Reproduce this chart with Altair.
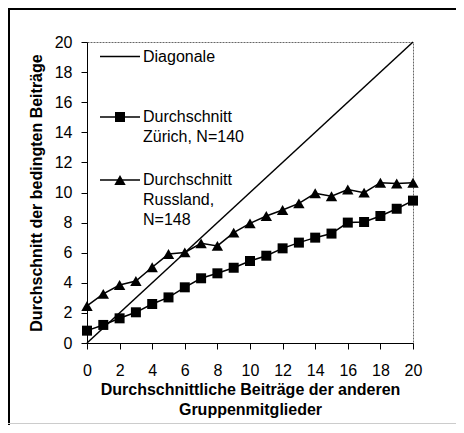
import altair as alt
import pandas as pd

# ---- data ----
x_vals = list(range(0, 21))
zurich = [0.82, 1.2, 1.64, 2.04, 2.59, 3.03, 3.7, 4.3, 4.63, 5.0, 5.45,
          5.8, 6.29, 6.67, 7.0, 7.27, 8.0, 8.04, 8.44, 8.92, 9.46]
russland = [2.46, 3.26, 3.85, 4.12, 5.03, 5.91, 6.02, 6.62, 6.45, 7.33, 7.95,
            8.44, 8.84, 9.28, 9.95, 9.75, 10.2, 9.99, 10.65, 10.6, 10.65]
diag_x = [0, 20]
diag_y = [0, 20]
tick_vals = list(range(0, 21, 2))

legend_labels = ["Diagonale", "Durchschnitt\nZürich, N=140", "Durchschnitt\nRussland,\nN=148"]

FONT = "Liberation Sans"

df_z = pd.DataFrame({"x": x_vals, "y": zurich})
df_r = pd.DataFrame({"x": x_vals, "y": russland})
df_d = pd.DataFrame({"x": diag_x, "y": diag_y})

xs = alt.Scale(domain=[0, 20], nice=False, zero=False)
ys = alt.Scale(domain=[0, 20], nice=False, zero=False)

x_axis = alt.Axis(values=tick_vals, grid=False, domainColor="black", tickColor="black",
                  tickSize=6, labelFont=FONT, labelFontSize=16, labelColor="black",
                  labelPadding=13, title=["Durchschnittliche Beiträge der anderen", "Gruppenmitglieder"],
                  titleFont=FONT, titleFontSize=16, titleFontWeight="bold", titleColor="black",
                  titleLineHeight=20, titlePadding=3, labelFlush=False)
y_axis = alt.Axis(values=tick_vals, grid=False, domainColor="black", tickColor="black",
                  tickSize=6, labelFont=FONT, labelFontSize=16, labelColor="black",
                  labelPadding=9, title="Durchschnitt der bedingten Beiträge",
                  titleFont=FONT, titleFontSize=16, titleFontWeight="bold", titleColor="black",
                  titlePadding=10, labelFlush=False)

X = alt.X("x:Q", scale=xs, axis=x_axis)
Y = alt.Y("y:Q", scale=ys, axis=y_axis)

diag = alt.Chart(df_d).mark_line(color="black", strokeWidth=1.5).encode(x=X, y=Y)
z_line = alt.Chart(df_z).mark_line(color="black", strokeWidth=1.5).encode(x=X, y=Y)
z_pts = alt.Chart(df_z).mark_point(shape="square", filled=True, size=100, color="black", opacity=1).encode(x=X, y=Y)
r_line = alt.Chart(df_r).mark_line(color="black", strokeWidth=1.5).encode(x=X, y=Y)
r_pts = alt.Chart(df_r).mark_point(shape="triangle-up", filled=True, size=130, color="black", opacity=1).encode(x=X, y=Y)

# ---- manual legend (inside plot, top-left) ----
base = alt.Chart(pd.DataFrame({"k": [0]}))
leg_rows = [14.5, 75, 138]
leg_items = []
for i, yy in enumerate(leg_rows):
    leg_items.append(base.mark_rule(color="black", strokeWidth=1.5).encode(
        x=alt.value(13), x2=alt.value(53), y=alt.value(yy)))
leg_items.append(base.mark_point(shape="square", filled=True, size=100, color="black", opacity=1).encode(
    x=alt.value(33), y=alt.value(leg_rows[1])))
leg_items.append(base.mark_point(shape="triangle-up", filled=True, size=130, color="black", opacity=1).encode(
    x=alt.value(33), y=alt.value(leg_rows[2])))
for lab, yy in zip(legend_labels, leg_rows):
    leg_items.append(base.mark_text(text=lab, align="left", baseline="middle", font=FONT, fontSize=16,
                                    lineBreak="\n", lineHeight=20, color="black").encode(
        x=alt.value(56), y=alt.value(yy)))

# ---- outer frame of the figure ----
frame = [
    base.mark_rule(color="black", strokeWidth=2).encode(x=alt.value(-78), y=alt.value(-34), y2=alt.value(383)),
    base.mark_rule(color="black", strokeWidth=2).encode(x=alt.value(-79), x2=alt.value(369), y=alt.value(-33)),
    base.mark_rule(color="#cccccc", strokeWidth=1).encode(x=alt.value(-79), x2=alt.value(369), y=alt.value(381.5)),
]

chart = alt.layer(diag, z_line, r_line, z_pts, r_pts, *leg_items, *frame).properties(
    width=326, height=301,
    autosize=alt.AutoSizeParams(type="none"),
    padding={"left": 79, "top": 34, "right": 43, "bottom": 82},
    background="white",
).configure_view(stroke="#666666", strokeDash=[2, 1], strokeWidth=1)

chart.save("out.html", embed_options={"renderer": "svg", "actions": False})
